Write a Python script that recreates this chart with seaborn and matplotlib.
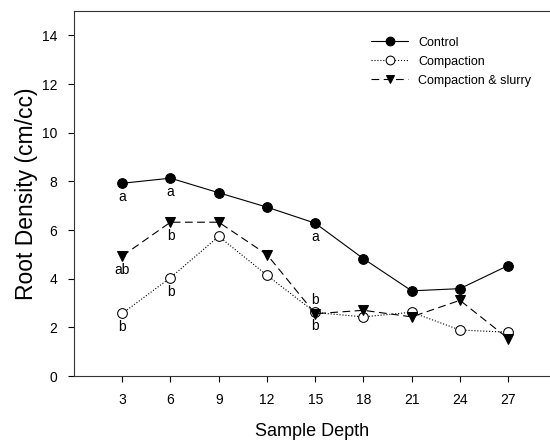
import pandas as pd
import matplotlib.pyplot as plt
import seaborn as sns

# Values
depths = [3, 6, 9, 12, 15, 18, 21, 24, 27]
control = [7.92, 8.13, 7.53, 6.94, 6.28, 4.82, 3.50, 3.59, 4.54]
compaction = [2.57, 4.04, 5.74, 4.14, 2.61, 2.43, 2.62, 1.89, 1.80]
compaction_slurry = [4.93, 6.32, 6.32, 4.99, 2.56, 2.70, 2.43, 3.11, 1.54]

# significance letters: (depth, series, letter, above/below)
letters = [
    (3, "Control", "a", "below"),
    (3, "Compaction & slurry", "ab", "below"),
    (3, "Compaction", "b", "below"),
    (6, "Control", "a", "below"),
    (6, "Compaction & slurry", "b", "below"),
    (6, "Compaction", "b", "below"),
    (15, "Control", "a", "below"),
    (15, "Compaction & slurry", "b", "above"),
    (15, "Compaction", "b", "below"),
]

df = pd.DataFrame({
    "depth": depths * 3,
    "density": control + compaction + compaction_slurry,
    "treatment": ["Control"] * 9 + ["Compaction"] * 9 + ["Compaction & slurry"] * 9,
})

sns.set_style("ticks")
plt.rcParams["font.family"] = ["Liberation Sans", "DejaVu Sans"]
plt.rcParams["text.color"] = "black"
plt.rcParams["axes.labelcolor"] = "black"
plt.rcParams["xtick.color"] = "black"
plt.rcParams["ytick.color"] = "black"

fig = plt.figure(figsize=(5.5, 4.43), dpi=100)
ax = fig.add_axes([74 / 550, 1 - 376 / 443, 476 / 550, 365 / 443])

styles = {
    "Control": dict(marker="o", linestyle="-", mfc="black"),
    "Compaction": dict(marker="o", linestyle=":", mfc="white"),
    "Compaction & slurry": dict(marker="v", linestyle=(0, (7, 4)), mfc="black"),
}

for name, st in styles.items():
    sub = df[df["treatment"] == name]
    sns.lineplot(data=sub, x="depth", y="density", ax=ax, color="black",
                 linewidth=0.8, markersize=7, mec="black", label=name,
                 marker=st["marker"], linestyle=st["linestyle"], mfc=st["mfc"])

for d, name, txt, pos in letters:
    val = df[(df["treatment"] == name) & (df["depth"] == d)]["density"].iloc[0]
    off = -10 if pos == "below" else 10
    ax.annotate(txt, (d, val), xytext=(0, off), textcoords="offset points",
                ha="center", va="center", fontsize=10)

ax.set_xlim(0, 29.6)
ax.set_ylim(0, 15)
ax.set_xticks(depths)
ax.set_yticks(range(0, 15, 2))
ax.tick_params(direction="out", length=4, width=0.8, labelsize=10, pad=8)
for side in ["left", "bottom", "top"]:
    ax.spines[side].set_linewidth(0.8)
    ax.spines[side].set_color("#333333")
ax.spines["right"].set_visible(False)

ax.set_xlabel("Sample Depth", fontsize=13, labelpad=12)
ax.set_ylabel("Root Density (cm/cc)", fontsize=16.5, labelpad=3)

ax.legend(loc="upper left", bbox_to_anchor=(0.6, 0.96), frameon=False,
          fontsize=9, handlelength=3, labelspacing=0.55, handletextpad=0.8,
          markerscale=0.9)

fig.savefig("out.png", dpi=100)
